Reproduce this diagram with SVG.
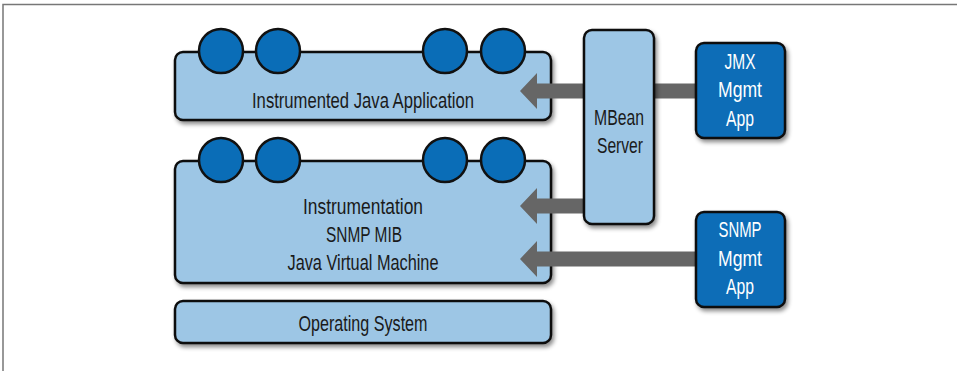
<svg xmlns="http://www.w3.org/2000/svg" width="957" height="371" viewBox="0 0 957 371">
<defs>
<filter id="sh" x="-10%" y="-10%" width="130%" height="140%">
<feDropShadow dx="2" dy="3" stdDeviation="2" flood-color="#000" flood-opacity="0.45"/>
</filter>
<style>
.lb{fill:#9DC6E5;stroke:#111;stroke-width:2.5;filter:url(#sh)}
.db{fill:#0A6DB7;stroke:#111;stroke-width:2.5;filter:url(#sh)}
.c{fill:#0A6DB7;stroke:#111;stroke-width:2.5}
.t{font-family:"Liberation Sans",Arial,sans-serif;font-size:22px;fill:#1a1a1a;text-anchor:middle}
.w{fill:#fff}
.ar{fill:#666}
</style>
</defs>
<rect width="957" height="371" fill="#fff"/>
<path d="M3 371 V4.5 H957" fill="none" stroke="#777" stroke-width="1.5"/>

<g id="app">
<rect class="lb" x="175" y="52" width="376" height="68" rx="8"/>
<circle class="c" cx="221" cy="51" r="22"/>
<circle class="c" cx="278" cy="51" r="22"/>
<circle class="c" cx="445" cy="51" r="22"/>
<circle class="c" cx="503" cy="51" r="22"/>
<text class="t" x="363" y="108" textLength="222" lengthAdjust="spacingAndGlyphs">Instrumented Java Application</text>
</g>

<g id="jvm">
<rect class="lb" x="175" y="161" width="376" height="122" rx="8"/>
<circle class="c" cx="221" cy="160" r="22"/>
<circle class="c" cx="278" cy="160" r="22"/>
<circle class="c" cx="445" cy="160" r="22"/>
<circle class="c" cx="503" cy="160" r="22"/>
<text class="t" x="363" y="214" textLength="120" lengthAdjust="spacingAndGlyphs">Instrumentation</text>
<text class="t" x="364" y="242" textLength="76" lengthAdjust="spacingAndGlyphs">SNMP MIB</text>
<text class="t" x="363" y="270" textLength="151" lengthAdjust="spacingAndGlyphs">Java Virtual Machine</text>
</g>

<g id="os">
<rect class="lb" x="175" y="301" width="376" height="42" rx="8"/>
<text class="t" x="363" y="331" textLength="129" lengthAdjust="spacingAndGlyphs">Operating System</text>
</g>

<g id="connectors">
<polygon class="ar" points="520,91 537,73 537,83.5 586,83.5 586,98.5 537,98.5 537,109"/>
<polygon class="ar" points="632,91 649,73 649,83.5 698,83.5 698,98.5 649,98.5 649,109"/>
<polygon class="ar" points="520,206 537,188 537,198.5 586,198.5 586,213.5 537,213.5 537,224"/>
<polygon class="ar" points="520,259 537,241 537,251.5 698,251.5 698,266.5 537,266.5 537,277"/>
</g>

<g id="mbean">
<rect class="lb" x="584" y="30" width="70" height="194" rx="8"/>
<text class="t" x="619" y="125" textLength="50" lengthAdjust="spacingAndGlyphs">MBean</text>
<text class="t" x="620" y="153" textLength="46" lengthAdjust="spacingAndGlyphs">Server</text>
</g>

<g id="jmx">
<rect class="db" x="696" y="43" width="89" height="95" rx="8"/>
<text class="t w" x="740" y="69" textLength="31" lengthAdjust="spacingAndGlyphs">JMX</text>
<text class="t w" x="740" y="97" textLength="44" lengthAdjust="spacingAndGlyphs">Mgmt</text>
<text class="t w" x="740" y="126" textLength="28" lengthAdjust="spacingAndGlyphs">App</text>
</g>

<g id="snmp">
<rect class="db" x="696" y="212" width="89" height="95" rx="8"/>
<text class="t w" x="740" y="237" textLength="43" lengthAdjust="spacingAndGlyphs">SNMP</text>
<text class="t w" x="740" y="266" textLength="44" lengthAdjust="spacingAndGlyphs">Mgmt</text>
<text class="t w" x="740" y="294" textLength="28" lengthAdjust="spacingAndGlyphs">App</text>
</g>
</svg>
